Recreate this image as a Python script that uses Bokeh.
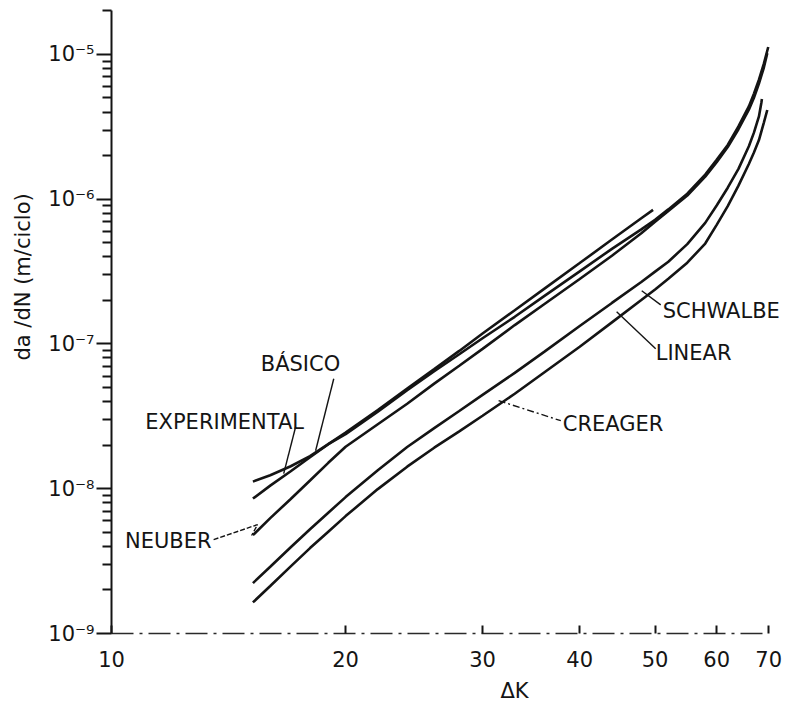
from bokeh.plotting import figure
from bokeh.models import FixedTicker, Label, Range1d, Title
from bokeh.embed import file_html
from bokeh.resources import INLINE

# ---------------- data ----------------
dk_experimental = [15.2, 16, 17, 18, 19, 20, 22, 24, 26, 28, 30, 33, 36, 40, 44, 48, 49.7]
dadn_experimental = [1.12e-8, 1.24e-8, 1.43e-8, 1.68e-8, 2.03e-8, 2.44e-8, 3.50e-8, 4.92e-8,
                     6.70e-8, 8.95e-8, 1.18e-7, 1.71e-7, 2.40e-7, 3.62e-7, 5.26e-7, 7.38e-7, 8.44e-7]

dk_basico = [15.2, 16, 17, 18, 19, 20, 22, 24, 26, 28, 30, 33, 36, 40, 44, 48, 50, 52, 55, 58,
             60, 62, 64, 66, 67, 68, 69, 69.9]
dadn_basico = [8.55e-9, 1.05e-8, 1.32e-8, 1.65e-8, 2.03e-8, 2.38e-8, 3.41e-8, 4.79e-8, 6.48e-8,
               8.49e-8, 1.095e-7, 1.54e-7, 2.14e-7, 3.17e-7, 4.54e-7, 6.19e-7, 7.20e-7, 8.50e-7,
               1.09e-6, 1.48e-6, 1.87e-6, 2.37e-6, 3.18e-6, 4.37e-6, 5.36e-6, 6.69e-6, 8.63e-6, 1.125e-5]

dk_neuber = [15.2, 16, 17, 18, 19, 20, 22, 24, 26, 28, 30, 33, 36, 40, 44, 48, 50, 52, 55, 58,
             60, 62, 64, 66, 67, 68, 69, 69.7]
dadn_neuber = [4.78e-9, 6.26e-9, 8.50e-9, 1.14e-8, 1.51e-8, 1.95e-8, 2.79e-8, 3.86e-8, 5.32e-8,
               7.07e-8, 9.25e-8, 1.35e-7, 1.88e-7, 2.81e-7, 4.07e-7, 5.82e-7, 6.97e-7, 8.29e-7,
               1.06e-6, 1.43e-6, 1.80e-6, 2.29e-6, 3.04e-6, 4.15e-6, 5.02e-6, 6.28e-6, 8.11e-6, 1.02e-5]

dk_schwalbe = [15.2, 16, 17, 18, 19, 20, 22, 24, 26, 28, 30, 33, 36, 40, 44, 48, 50, 52, 55, 58,
               60, 62, 64, 66, 67, 68, 68.5, 68.6]
dadn_schwalbe = [2.23e-9, 2.89e-9, 3.94e-9, 5.25e-9, 6.83e-9, 8.75e-9, 1.34e-8, 1.94e-8, 2.62e-8,
                 3.44e-8, 4.45e-8, 6.31e-8, 8.81e-8, 1.33e-7, 1.92e-7, 2.68e-7, 3.16e-7, 3.70e-7,
                 4.89e-7, 6.86e-7, 9.05e-7, 1.20e-6, 1.62e-6, 2.32e-6, 2.88e-6, 3.73e-6, 4.65e-6, 4.92e-6]

dk_linear = [15.2, 16, 17, 18, 19, 20, 22, 24, 26, 28, 30, 33, 36, 40, 44, 48, 50, 52, 55, 58,
             60, 62, 64, 66, 67, 68, 69, 69.7]
dadn_linear = [1.64e-9, 2.13e-9, 2.91e-9, 3.89e-9, 5.05e-9, 6.47e-9, 9.94e-9, 1.42e-8, 1.92e-8,
               2.49e-8, 3.19e-8, 4.53e-8, 6.35e-8, 9.57e-8, 1.41e-7, 2.01e-7, 2.38e-7, 2.82e-7,
               3.64e-7, 4.94e-7, 6.65e-7, 8.95e-7, 1.24e-6, 1.75e-6, 2.10e-6, 2.56e-6, 3.38e-6, 4.13e-6]

series = [
    (dk_experimental, dadn_experimental),
    (dk_basico, dadn_basico),
    (dk_neuber, dadn_neuber),
    (dk_schwalbe, dadn_schwalbe),
    (dk_linear, dadn_linear),
]

x_ticks = [10, 20, 30, 40, 50, 60, 70]
x_tick_labels = ["10", "20", "30", "40", "50", "60", "70"]
y_ticks = [1e-9, 1e-8, 1e-7, 1e-6, 1e-5]
y_tick_labels = ["10\u207b\u2079", "10\u207b\u2078", "10\u207b\u2077", "10\u207b\u2076", "10\u207b\u2075"]

# curve annotations: text, anchor (data coords), alignment
curve_labels = [
    ("BÁSICO", 17.50, 7.30e-8, "center"),
    ("EXPERIMENTAL", 13.98, 2.88e-8, "center"),
    ("NEUBER", 13.45, 4.38e-9, "right"),
    ("SCHWALBE", 51.14, 1.69e-7, "left"),
    ("LINEAR", 50.09, 8.70e-8, "left"),
    ("CREAGER", 38.04, 2.79e-8, "left"),
]
# leader lines (data coords) and dash style
leaders = [
    ([19.31, 18.30], [5.75e-8, 1.83e-8], "solid"),
    ([17.25, 16.65], [2.68e-8, 1.27e-8], "solid"),
    ([13.53, 15.41, 15.14], [4.45e-9, 5.65e-9, 4.75e-9], "5 2"),
    ([48.06, 50.84], [2.33e-7, 1.86e-7], "solid"),
    ([44.62, 50.09], [1.67e-7, 9.27e-8], "solid"),
    ([31.46, 37.82], [4.06e-8, 2.95e-8], "7 3 2 3"),
]

FONT = "DejaVu Sans"
INK = "#141414"

p = figure(width=787, height=711, x_axis_type="log", y_axis_type="log",
           x_range=Range1d(10, 74), y_range=Range1d(1e-9, 2.01e-5),
           output_backend="svg", toolbar_location=None,
           min_border_left=111, min_border_right=0, min_border_top=10, min_border_bottom=78)
p.outline_line_color = None
p.xgrid.visible = False
p.ygrid.visible = False
p.background_fill_color = "white"
p.border_fill_color = "white"

# x axis (drawn only from 10 to 70)
p.xaxis.bounds = (10, 70)
p.xaxis.ticker = FixedTicker(ticks=x_ticks, minor_ticks=[])
p.xaxis.major_label_overrides = {t: l for t, l in zip(x_ticks, x_tick_labels)}
p.xaxis.major_tick_in = 8
p.xaxis.major_tick_out = 0
p.xaxis.minor_tick_in = 0
p.xaxis.minor_tick_out = 0
p.xaxis.major_tick_line_width = 2
p.xaxis.major_tick_line_color = INK
p.xaxis.axis_line_color = "#2a2a2a"
p.xaxis.axis_line_width = 1.5
p.xaxis.axis_line_dash = "22 6 3 6"
p.xaxis.major_label_standoff = 17
p.xaxis.major_label_text_font = FONT
p.xaxis.major_label_text_font_size = "21px"
p.xaxis.major_label_text_color = INK

# y axis
minor_y = [m * 10.0 ** e for e in range(-9, -4) for m in range(2, 10)] + [2e-5]
p.yaxis.ticker = FixedTicker(ticks=y_ticks, minor_ticks=minor_y)
p.yaxis.major_label_overrides = {t: l for t, l in zip(y_ticks, y_tick_labels)}
p.yaxis.major_tick_out = 15
p.yaxis.major_tick_in = 0
p.yaxis.minor_tick_out = 9
p.yaxis.minor_tick_in = 0
p.yaxis.major_tick_line_width = 2
p.yaxis.minor_tick_line_width = 2
p.yaxis.major_tick_line_color = INK
p.yaxis.minor_tick_line_color = INK
p.yaxis.axis_line_color = INK
p.yaxis.axis_line_width = 2
p.yaxis.major_label_standoff = 2
p.yaxis.major_label_text_font = FONT
p.yaxis.major_label_text_font_size = "21px"
p.yaxis.major_label_text_color = INK

# curves
for xs, ys in series:
    p.line(xs, ys, line_color=INK, line_width=2.6)

# leader lines
for xs, ys, dash in leaders:
    p.line(xs, ys, line_color=INK, line_width=1.4, line_dash=dash)

# curve labels
for text, x, y, align in curve_labels:
    p.add_layout(Label(x=x, y=y, text=text, text_font=FONT, text_font_size="21px",
                       text_color=INK, text_align=align, text_baseline="middle"))

# axis titles (as side titles so they sit outside the frame)
p.add_layout(Title(text="da /dN (m/ciclo)", align="left", offset=273, standoff=18,
                   vertical_align="top",
                   text_font=FONT, text_font_size="21px", text_font_style="normal",
                   text_color=INK), "left")
p.add_layout(Title(text="\u0394K", align="left", offset=389, standoff=15,
                   text_font=FONT, text_font_size="21px", text_font_style="normal",
                   text_color=INK), "below")

open("out.html", "w").write(file_html(p, INLINE))
